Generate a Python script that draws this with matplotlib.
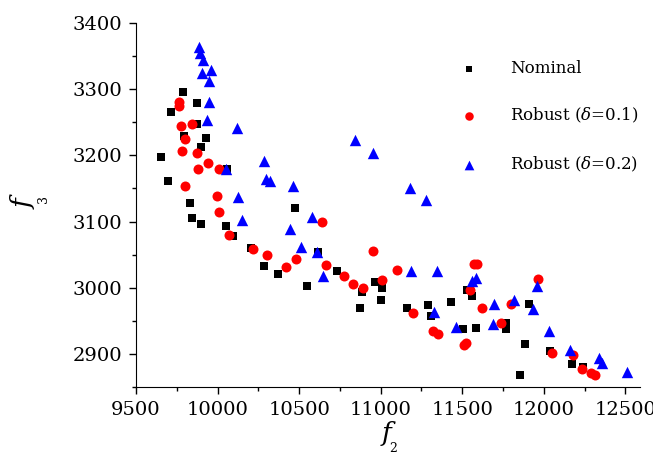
import matplotlib
matplotlib.use("Agg")
import matplotlib.pyplot as plt
from matplotlib.ticker import MultipleLocator

plt.rcParams['font.family'] = ['DejaVu Serif']
plt.rcParams['mathtext.fontset'] = 'dejavuserif'

# Nominal
nom_f2 = [9653, 9694, 9713, 9790, 9792, 9831, 9845, 9872, 9876, 9898, 9898,
          9930, 10051, 10058, 10097, 10208, 10284, 10370, 10473, 10551, 10615,
          10733, 10872, 10883, 10964, 11001, 11009, 11162, 11291, 11307, 11434,
          11505, 11527, 11560, 11583, 11766, 11769, 11856, 11885, 11910, 12040,
          12173, 12241]
nom_f3 = [3197, 3161, 3265, 3296, 3229, 3128, 3106, 3279, 3248, 3213, 3096,
          3226, 3094, 3180, 3078, 3060, 3033, 3021, 3120, 3003, 3054,
          3025, 2970, 2993, 3009, 2982, 3000, 2969, 2974, 2957, 2978,
          2937, 2996, 2988, 2939, 2938, 2947, 2868, 2915, 2976, 2904,
          2884, 2880]

# Robust (delta = 0.1)
r1_f2 = [9763, 9765, 9776, 9845, 9802, 9780, 9874, 9943, 9883, 10010, 9802,
         9998, 10009, 10070, 10220, 10301, 10421, 10482, 10638, 10664, 10776,
         10828, 10891, 10950, 11010, 11103, 11196, 11319, 11350, 11510, 11522,
         11550, 11571, 11592, 11622, 11739, 11800, 11965, 12051, 12178, 12235,
         12287, 12314]
r1_f3 = [3281, 3275, 3245, 3248, 3225, 3207, 3203, 3188, 3180, 3180, 3154,
         3138, 3114, 3080, 3059, 3049, 3031, 3044, 3100, 3035, 3018,
         3005, 3000, 3055, 3012, 3027, 2962, 2934, 2930, 2914, 2916,
         2996, 3036, 3036, 2970, 2947, 2975, 3013, 2902, 2898, 2877,
         2871, 2868]

# Robust (delta = 0.2)
r2_f2 = [9888, 9895, 9911, 9903, 9958, 9947, 9947, 9937, 10121, 10053, 10125,
         10148, 10284, 10298, 10323, 10464, 10444, 10509, 10577, 10609, 10648,
         10842, 10950, 11179, 11275, 11189, 11346, 11324, 11461, 11557, 11587,
         11693, 11689, 11820, 11934, 11956, 12035, 12163, 12337, 12360, 12508]
r2_f3 = [3363, 3355, 3344, 3325, 3329, 3312, 3281, 3254, 3242, 3180, 3137,
         3102, 3191, 3165, 3162, 3154, 3088, 3062, 3107, 3054, 3017,
         3223, 3203, 3150, 3133, 3025, 3026, 2964, 2940, 3010, 3014,
         2975, 2945, 2981, 2968, 3002, 2934, 2906, 2894, 2887, 2872]

fig = plt.figure(figsize=(6.53, 4.58), dpi=100)
ax = fig.add_axes([136 / 653, 71 / 458, 504 / 653, 364 / 458])

ax.scatter(nom_f2, nom_f3, marker='s', s=5.8 ** 2, c='black', linewidths=0,
           label='Nominal')
ax.scatter(r1_f2, r1_f3, marker='o', s=7.2 ** 2, c='red', linewidths=0,
           label=r'Robust ($\delta$=0.1)')
ax.scatter(r2_f2, r2_f3, marker='^', s=8.2 ** 2, c='blue', linewidths=0,
           label=r'Robust ($\delta$=0.2)')

ax.set_xlim(9500, 12590)
ax.set_ylim(2850, 3400)
ax.xaxis.set_major_locator(MultipleLocator(500))
ax.xaxis.set_minor_locator(MultipleLocator(250))
ax.yaxis.set_major_locator(MultipleLocator(100))
ax.yaxis.set_minor_locator(MultipleLocator(50))

# only left and bottom axis lines
ax.spines['top'].set_visible(False)
ax.spines['right'].set_visible(False)
ax.tick_params(which='major', direction='out', length=5, width=1,
               labelsize=14, pad=5)
ax.tick_params(which='minor', direction='out', length=3, width=1)

leg = ax.legend(loc='upper left', bbox_to_anchor=(0.614, 0.917), frameon=False,
                fontsize=12, labelspacing=1.75, handletextpad=1.5,
                markerscale=0.85, scatterpoints=1, borderaxespad=0)

# axis labels, with the subscripts set far off as in the original
fig.text(387 / 653, 1 - 433 / 458, 'f', fontsize=19, style='italic',
         ha='center', va='center')
fig.text(393 / 653, 1 - 449 / 458, '2', fontsize=9, ha='center', va='center')
fig.text(24 / 653, 1 - 204 / 458, 'f', fontsize=19, style='italic',
         rotation=90, ha='center', va='center')
fig.text(44 / 653, 1 - 199 / 458, '3', fontsize=9, rotation=90,
         ha='center', va='center')

fig.savefig('out.png', dpi=100)
